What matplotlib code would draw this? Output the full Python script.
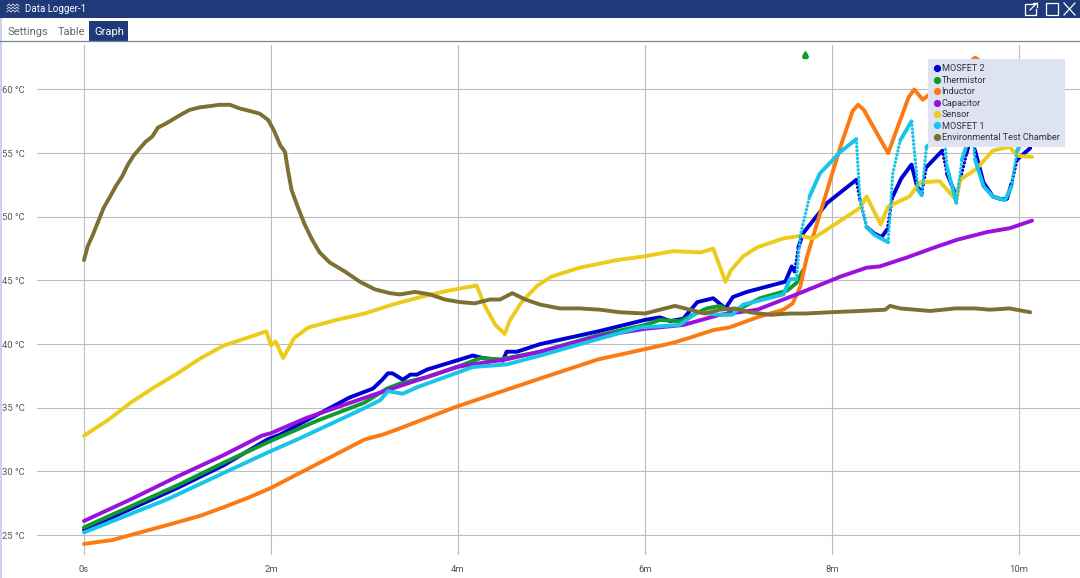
import matplotlib
matplotlib.use('Agg')
import matplotlib.pyplot as plt
from matplotlib.lines import Line2D
from matplotlib.patches import Rectangle

plt.rcParams['font.family'] = ['Roboto', 'DejaVu Sans']

# =====================================================
# DATA (time in minutes, temperature in deg C)
# =====================================================
mosfet2_t = [0, 1, 1.5, 1.96, 2.1, 2.38, 2.84, 3.09, 3.19, 3.25, 3.3, 3.41, 3.49, 3.56, 3.67, 4.16, 4.27, 4.48, 4.52, 4.63,
             4.88, 5.5, 6, 6.16, 6.27, 6.41, 6.56, 6.73, 6.86, 6.94, 7.09, 7.5, 7.57, 7.6, 7.64, 7.69, 7.95, 8.26, 8.3,
             8.37, 8.45, 8.53, 8.59, 8.65, 8.74, 8.85, 8.91, 8.96, 9.01, 9.18, 9.23, 9.33, 9.44, 9.5, 9.53, 9.62, 9.72, 9.8, 9.87,
             9.92, 9.98, 10.12]
mosfet2_v = [25.4, 28.7, 30.5, 32.5, 32.9, 34.0, 35.8, 36.5, 37.2, 37.7, 37.7, 37.2, 37.6, 37.6, 38.0, 39.1, 38.9, 38.7, 39.4, 39.4,
             40.0, 41.0, 41.9, 42.1, 41.8, 42.0, 43.3, 43.6, 42.8, 43.7, 44.1, 44.9, 46.1, 45.7, 47.6, 48.7, 51.1, 52.9, 51.3,
             49.2, 48.7, 48.4, 49.0, 51.6, 53.0, 54.1, 52.4, 51.9, 53.9, 55.2, 53.4, 51.6, 55.0, 56.8, 55.2, 52.7, 51.6, 51.4, 51.4,
             52.6, 54.5, 55.4]

thermistor_t = [0, 1, 1.5, 2, 2.5, 3, 3.24, 3.38, 3.67, 3.99, 4.24, 4.45, 4.88, 5.5, 6, 6.16, 6.37, 6.66, 6.8, 6.94, 7.23, 7.52,
                7.62, 7.69]
thermistor_v = [25.6, 28.9, 30.7, 32.4, 34.0, 35.4, 36.5, 36.9, 37.4, 38.2, 38.9, 38.8, 39.4, 40.7, 41.5, 41.9, 41.8, 42.8, 43.0,
                42.5, 43.6, 44.2, 44.8, 45.8]
thermistor_spike = (7.71, 62.8)

inductor_t = [0, 0.3, 0.6, 0.9, 1.24, 1.5, 1.78, 2, 2.5, 3, 3.2, 3.35, 3.99, 4.88, 5.5, 6, 6.3, 6.48, 6.73, 6.9, 7.2, 7.48, 7.58,
              7.66, 7.73, 7.82, 8.09, 8.22, 8.28, 8.34, 8.6, 8.82, 8.88, 8.97, 9.25, 9.53, 10.12]
inductor_v = [24.3, 24.6, 25.2, 25.8, 26.5, 27.2, 28.0, 28.7, 30.6, 32.5, 32.9, 33.3, 35.1, 37.3, 38.8, 39.6, 40.1, 40.5, 41.1, 41.3,
              42.1, 42.7, 43.2, 44.5, 46.8, 49.0, 55.5, 58.3, 58.8, 58.4, 55.0, 59.4, 60.0, 59.2, 60.8, 62.5, 59.5]

capacitor_t = [0, 0.5, 1, 1.5, 1.9, 2, 2.38, 3.09, 3.99, 4.24, 4.52, 4.88, 5.5, 6, 6.41, 6.8, 7.2, 7.62, 8.09, 8.37, 8.51, 8.8, 9.1,
               9.34, 9.66, 9.9, 10.14]
capacitor_v = [26.1, 27.8, 29.6, 31.3, 32.8, 33.0, 34.2, 36.0, 38.2, 38.5, 38.8, 39.4, 40.6, 41.2, 41.5, 42.3, 42.7, 43.9, 45.3,
               46.0, 46.1, 46.8, 47.6, 48.2, 48.8, 49.1, 49.7]

sensor_t = [0, 0.25, 0.5, 0.75, 1, 1.25, 1.5, 1.75, 1.95, 2, 2.05, 2.13, 2.25, 2.4, 2.7, 3, 3.3, 3.6, 3.9, 4.2, 4.28, 4.4, 4.5,
            4.55, 4.68, 4.85, 5, 5.3, 5.7, 6, 6.3, 6.6, 6.73, 6.86, 6.92, 7.05, 7.2, 7.48, 7.66, 7.8, 8.3, 8.37, 8.52, 8.6, 8.83,
            8.94, 9.15, 9.33, 9.37, 9.55, 9.72, 9.9, 9.98, 10.14]
sensor_v = [32.8, 34.0, 35.4, 36.6, 37.7, 38.9, 39.9, 40.5, 41.0, 39.9, 40.2, 38.9, 40.5, 41.3, 41.9, 42.4, 43.1, 43.7, 44.2, 44.6,
            43.1, 41.5, 40.8, 41.8, 43.3, 44.6, 45.3, 46.0, 46.6, 46.9, 47.3, 47.2, 47.5, 44.9, 45.8, 46.9, 47.6, 48.3, 48.5, 48.3,
            50.7, 51.6, 49.4, 50.8, 51.6, 52.7, 52.8, 51.3, 52.9, 53.8, 55.2, 55.5, 54.8, 54.7]

mosfet1_t = [0, 0.89, 1.5, 2, 2.28, 2.98, 3.17, 3.25, 3.41, 3.56, 4.16, 4.52, 4.88, 5.5, 5.94, 6.37, 6.56, 6.8, 6.93, 7.05, 7.48,
             7.55, 7.62, 7.66, 7.76, 7.87, 8.09, 8.26, 8.3, 8.37, 8.45, 8.55, 8.6, 8.65, 8.73, 8.85, 8.89, 8.92, 8.96, 9.01, 9.2,
             9.23, 9.33, 9.39, 9.5, 9.53, 9.62, 9.72, 9.85, 9.92, 9.98, 10.12]
mosfet1_v = [25.2, 27.8, 29.9, 31.6, 32.5, 34.9, 35.6, 36.3, 36.1, 36.6, 38.2, 38.4, 39.1, 40.4, 41.3, 41.5, 42.5, 42.3, 42.3, 43.1,
             43.9, 45.1, 45.1, 48.5, 51.6, 53.4, 55.1, 56.1, 51.3, 49.2, 48.6, 48.2, 48.0, 53.4, 56.0, 57.5, 54.5, 52.1, 51.7, 55.5,
             56.5, 53.9, 51.1, 54.5, 57.0, 54.5, 52.4, 51.6, 51.3, 52.4, 55.2, 57.0]

chamber_t = [0, 0.04, 0.09, 0.15, 0.21, 0.28, 0.34, 0.41, 0.47, 0.53, 0.6, 0.66, 0.73, 0.79, 0.87, 0.94, 1.03, 1.13, 1.24, 1.35,
             1.45, 1.56, 1.67, 1.78, 1.88, 1.97, 2.03, 2.1, 2.15, 2.18, 2.22, 2.29, 2.36, 2.44, 2.52, 2.63, 2.79, 2.95, 3.11,
             3.27, 3.38, 3.54, 3.7, 3.86, 4.02, 4.18, 4.34, 4.45, 4.58, 4.72, 4.88, 5.09, 5.3, 5.52, 5.73, 6, 6.16, 6.32, 6.48,
             6.64, 6.8, 6.96, 7.12, 7.34, 7.55, 7.71, 7.98, 8.3, 8.57, 8.62, 8.73, 9.05, 9.32, 9.53, 9.69, 9.9, 10.12]
chamber_v = [46.6, 47.7, 48.5, 49.6, 50.7, 51.6, 52.4, 53.2, 54.1, 54.8, 55.4, 55.9, 56.3, 57.0, 57.3, 57.6, 58.0, 58.4, 58.6, 58.7,
             58.8, 58.8, 58.5, 58.3, 58.1, 57.6, 56.8, 55.6, 55.1, 53.7, 52.1, 50.7, 49.4, 48.2, 47.2, 46.4, 45.7, 44.9, 44.3,
             44.0, 43.9, 44.1, 43.9, 43.5, 43.3, 43.2, 43.5, 43.5, 44.0, 43.5, 43.1, 42.8, 42.8, 42.7, 42.5, 42.4, 42.7, 43.0, 42.7,
             42.4, 42.7, 42.8, 42.5, 42.3, 42.4, 42.4, 42.5, 42.6, 42.7, 43.0, 42.8, 42.6, 42.8, 42.8, 42.7, 42.8, 42.5]

series_names = ['MOSFET 2', 'Thermistor', 'Inductor', 'Capacitor', 'Sensor', 'MOSFET 1', 'Environmental Test Chamber']
series_colors = ['#0000d6', '#0e9a2c', '#fb7a14', '#9a10dc', '#eccb1a', '#17c5e8', '#7d7033']
series_data = [(mosfet2_t, mosfet2_v), (thermistor_t, thermistor_v), (inductor_t, inductor_v), (capacitor_t, capacitor_v),
               (sensor_t, sensor_v), (mosfet1_t, mosfet1_v), (chamber_t, chamber_v)]

y_ticks = [25, 30, 35, 40, 45, 50, 55, 60]
y_labels = ['25 °C', '30 °C', '35 °C', '40 °C', '45 °C', '50 °C', '55 °C', '60 °C']
x_ticks = [0, 2, 4, 6, 8, 10]
x_labels = ['0s', '2m', '4m', '6m', '8m', '10m']
tabs = ['Settings', 'Table', 'Graph']

W, H = 1080, 578
fig = plt.figure(figsize=(W / 100, H / 100), dpi=100, facecolor='white')

# =====================================================
# PLOT AREA
# =====================================================
left, right, top, bottom = 37, 1080, 45, 555
ax = fig.add_axes([left / W, 1 - bottom / H, (right - left) / W, (bottom - top) / H])
ax.set_xlim((left - 84) / 93.5, (right - 84) / 93.5)
ax.set_ylim(25 - (bottom - 535) / 12.73, 60 + (89.5 - top) / 12.73)
for s in ax.spines.values():
    s.set_visible(False)

ax.set_xticks(x_ticks, x_labels)
ax.set_yticks(y_ticks, y_labels)
ax.tick_params(axis='both', length=0, labelsize=6.8, labelcolor='#555555')
ax.tick_params(axis='x', pad=7.5)
ax.tick_params(axis='y', pad=25)
for lab in ax.get_yticklabels():
    lab.set_ha('left')
ax.grid(True, color='#bdbdbd', linewidth=0.8)
ax.set_axisbelow(True)


def draw_series(t, v, color, steep=None):
    # samples are far apart on the fast rises, so those parts show up as dots
    if steep is None:
        ax.plot(t, v, color=color, linewidth=2.8, solid_capstyle='round', solid_joinstyle='round')
        return
    run_t, run_v = [t[0]], [v[0]]
    for i in range(1, len(t)):
        rate = abs(v[i] - v[i - 1]) / (t[i] - t[i - 1])
        if rate > steep:
            ax.plot(run_t, run_v, color=color, linewidth=2.8, solid_capstyle='round', solid_joinstyle='round')
            ax.plot(t[i - 1:i + 1], v[i - 1:i + 1], color=color, linewidth=2.4,
                    linestyle=(0, (0.05, 1.1)), dash_capstyle='round')
            run_t, run_v = [], []
        run_t.append(t[i])
        run_v.append(v[i])
    ax.plot(run_t, run_v, color=color, linewidth=2.8, solid_capstyle='round', solid_joinstyle='round')


handles = []
for name, color, (t, v) in zip(series_names, series_colors, series_data):
    draw_series(t, v, color, steep=30 if name.startswith('MOSFET') else None)
    handles.append(Line2D([], [], linestyle='none', marker='o', markersize=4.2, color=color, label=name))

# stray thermistor reading at the top of the chart
ax.plot([thermistor_spike[0]], [thermistor_spike[1]], marker='^', markersize=5, color=series_colors[1], linestyle='none')
ax.plot([thermistor_spike[0]], [thermistor_spike[1] - 0.2], marker='s', markersize=2.4, color=series_colors[1], linestyle='none')

leg_x = (928 - left) / (right - left)
leg_y = 1 - (59 - top) / (bottom - top)
leg = ax.legend(handles=handles, loc='upper left', bbox_to_anchor=(leg_x, leg_y), borderaxespad=0, fontsize=6.6,
                facecolor='#dde3f3', edgecolor='none', framealpha=1, fancybox=False, handlelength=0.75,
                handletextpad=0.15, labelspacing=0.27, borderpad=0.58, labelcolor='#333333')
leg.set_zorder(10)

# =====================================================
# WINDOW CHROME
# =====================================================
ui = fig.add_axes([0, 0, 1, 1], facecolor='none')
ui.set_xlim(0, W)
ui.set_ylim(H, 0)
ui.axis('off')
navy = '#1f3a78'
ui.add_patch(Rectangle((0, 0), W, 18, color=navy, lw=0))
ui.add_patch(Rectangle((0, 18), 2, H - 18, color='#c9d3ea', lw=0))
ui.add_patch(Rectangle((89, 21), 39, 20, color=navy, lw=0))
ui.plot([0, W], [41, 41], color='#7a869f', lw=0.9)
ui.text(25, 9, 'Data Logger-1', color='white', fontsize=7.0, va='center')
for label, x, col in zip(tabs, [8, 58, 94], ['#666666', '#666666', 'white']):
    ui.text(x, 32, label, color=col, fontsize=8.0, va='center')

# wave icon in the title bar
for yy in [6, 9, 12]:
    ui.plot([7, 9, 11, 13, 15, 17, 19], [yy, yy - 2, yy, yy - 2, yy, yy - 2, yy], color='#d7deee', lw=0.6)

# window buttons
ui.plot([1035, 1025, 1025, 1036, 1036], [4, 4, 15, 15, 9], color='white', lw=0.9)
ui.plot([1030, 1037], [10, 3], color='white', lw=0.9)
ui.plot([1033, 1037, 1037], [3, 3, 7], color='white', lw=0.9)
ui.add_patch(Rectangle((1046, 3), 12, 12, fill=False, edgecolor='white', lw=0.9))
ui.plot([1064, 1075], [3, 15], color='white', lw=0.9)
ui.plot([1064, 1075], [15, 3], color='white', lw=0.9)

fig.savefig('out.png', dpi=100)
